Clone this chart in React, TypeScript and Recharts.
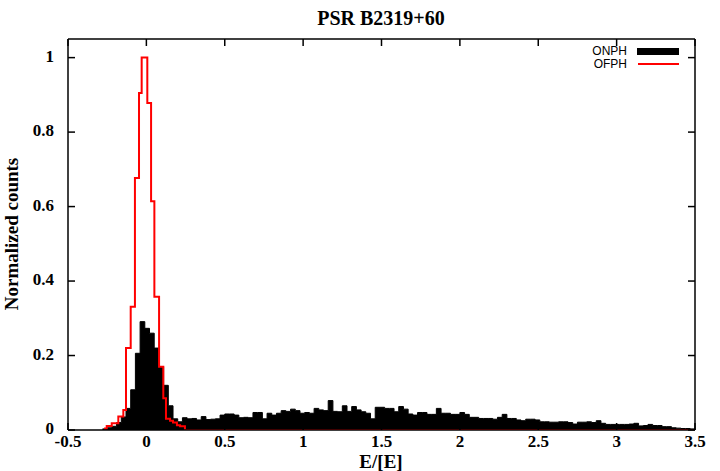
import React from 'react';
import { ComposedChart, Area, Line, XAxis, YAxis } from 'recharts';

// ONPH: on-pulse energy histogram, fixed bin width, left edges from -0.28
const ONPH_START = -0.28;
const ONPH_BIN = 0.03;
const onphCounts = [
  0.003, 0.006, 0.01, 0.02, 0.035, 0.058, 0.108, 0.206, 0.291, 0.273, 0.26, 0.22, 0.17, 0.12, 0.065, 0.03,
  0.022, 0.033, 0.03, 0.031, 0.027, 0.036, 0.028, 0.029, 0.03, 0.04,
  0.043, 0.043, 0.04, 0.033, 0.034, 0.033, 0.047, 0.047, 0.03, 0.045,
  0.04, 0.045, 0.052, 0.05, 0.056, 0.052, 0.045, 0.047, 0.045, 0.058,
  0.054, 0.052, 0.079, 0.05, 0.049, 0.065, 0.05, 0.063, 0.054, 0.049,
  0.045, 0.03, 0.061, 0.061, 0.058, 0.058, 0.049, 0.063, 0.056, 0.043,
  0.04, 0.047, 0.047, 0.042, 0.042, 0.058, 0.045, 0.045, 0.042, 0.042,
  0.047, 0.042, 0.034, 0.034, 0.031, 0.031, 0.031, 0.029, 0.034, 0.042,
  0.031, 0.031, 0.027, 0.025, 0.029, 0.029, 0.027, 0.022, 0.022, 0.021,
  0.021, 0.022, 0.022, 0.02, 0.016, 0.021, 0.021, 0.022, 0.02, 0.025,
  0.018, 0.015, 0.015, 0.015, 0.015, 0.015, 0.016, 0.018, 0.011, 0.012,
  0.015, 0.012, 0.012, 0.009, 0.009, 0.006, 0.005, 0.004, 0.004, 0.003,
];

// OFPH: off-pulse histogram, step edges
const ofphEdges = [
  -0.27, -0.253, -0.221, -0.179, -0.147, -0.13, -0.1, -0.073, -0.047, -0.03, 0.006,
  0.03, 0.051, 0.081, 0.108, 0.125, 0.151, 0.17, 0.195, 0.215, 0.246, 3.5,
];
const ofphCounts = [
  0.004, 0.011, 0.018, 0.036, 0.054, 0.22, 0.331, 0.677, 0.905, 1.0, 0.878,
  0.614, 0.358, 0.17, 0.085, 0.03, 0.025, 0.02, 0.013, 0.01, 0, 0,
];

const xTicks = [-0.5, 0, 0.5, 1, 1.5, 2, 2.5, 3, 3.5];
const yTicks = [0, 0.2, 0.4, 0.6, 0.8, 1];

const onphData = [...onphCounts, onphCounts[onphCounts.length - 1]].map((y, i) => ({
  x: +(ONPH_START + i * ONPH_BIN).toFixed(3),
  y,
}));
const ofphData = ofphEdges.map((x, i) => ({ x, y: ofphCounts[i] }));

const SERIF = '"Liberation Serif", "DejaVu Serif", serif';
const SANS = '"Liberation Sans", Arial, sans-serif';
const TICK = 7;

function BottomTick({ x, y, payload }: any) {
  return (
    <g>
      <line x1={x} x2={x} y1={y} y2={y - TICK} stroke="#000" strokeWidth={1.5} />
      <text x={x} y={y + 17} textAnchor="middle" fontFamily={SERIF} fontWeight="bold" fontSize={17} fill="#000">
        {payload.value}
      </text>
    </g>
  );
}

function TopTick({ x, y }: any) {
  return <line x1={x} x2={x} y1={y} y2={y + TICK} stroke="#000" strokeWidth={1.5} />;
}

function LeftTick({ x, y, payload }: any) {
  return (
    <g>
      <line x1={x} x2={x + TICK} y1={y} y2={y} stroke="#000" strokeWidth={1.5} />
      <text x={x - 14} y={y + 4} textAnchor="end" fontFamily={SERIF} fontWeight="bold" fontSize={17} fill="#000">
        {payload.value}
      </text>
    </g>
  );
}

function RightTick({ x, y }: any) {
  return <line x1={x} x2={x - TICK} y1={y} y2={y} stroke="#000" strokeWidth={1.5} />;
}

export default function App() {
  const axisLine = { stroke: '#000', strokeWidth: 1.5 };
  return (
    <div style={{ position: 'absolute', left: 0, top: 0, background: '#fff' }}>
      <ComposedChart width={720} height={471} margin={{ top: 29, right: 15, bottom: 11, left: 8 }}>
        <XAxis
          xAxisId="b"
          dataKey="x"
          type="number"
          domain={[-0.5, 3.5]}
          ticks={xTicks}
          allowDataOverflow
          height={30}
          tickSize={0}
          tickMargin={0}
          axisLine={axisLine}
          tick={<BottomTick />}
        />
        <XAxis
          xAxisId="t"
          orientation="top"
          dataKey="x"
          type="number"
          domain={[-0.5, 3.5]}
          ticks={xTicks}
          allowDataOverflow
          height={10}
          tickSize={0}
          tickMargin={0}
          axisLine={axisLine}
          tick={<TopTick />}
        />
        <YAxis
          yAxisId="l"
          type="number"
          domain={[0, 1.05]}
          ticks={yTicks}
          allowDataOverflow
          width={60}
          tickSize={0}
          tickMargin={0}
          axisLine={axisLine}
          tick={<LeftTick />}
        />
        <YAxis
          yAxisId="r"
          orientation="right"
          type="number"
          domain={[0, 1.05]}
          ticks={yTicks}
          allowDataOverflow
          width={10}
          tickSize={0}
          tickMargin={0}
          axisLine={axisLine}
          tick={<RightTick />}
        />
        <Area
          data={onphData}
          xAxisId="b"
          yAxisId="l"
          dataKey="y"
          type="stepAfter"
          stroke="#000"
          strokeWidth={1}
          fill="#000"
          fillOpacity={1}
          isAnimationActive={false}
        />
        <Line
          data={ofphData}
          xAxisId="b"
          yAxisId="l"
          dataKey="y"
          type="stepAfter"
          stroke="#ff0000"
          strokeWidth={2}
          dot={false}
          isAnimationActive={false}
        />
        <text x={381} y={25} textAnchor="middle" fontFamily={SERIF} fontWeight="bold" fontSize={20} fill="#000">
          PSR B2319+60
        </text>
        <text x={381} y={468} textAnchor="middle" fontFamily={SERIF} fontWeight="bold" fontSize={19} fill="#000">
          E/[E]
        </text>
        <text
          x={18}
          y={234}
          textAnchor="middle"
          transform="rotate(-90 18 234)"
          fontFamily={SERIF}
          fontWeight="bold"
          fontSize={19}
          fill="#000"
        >
          Normalized counts
        </text>
        <text x={627} y={55} textAnchor="end" fontFamily={SANS} fontSize={12} fill="#000">ONPH</text>
        <rect x={637} y={48} width={42} height={7} fill="#000" />
        <text x={627} y={68} textAnchor="end" fontFamily={SANS} fontSize={12} fill="#000">OFPH</text>
        <line x1={638} x2={679} y1={64} y2={64} stroke="#ff0000" strokeWidth={2} />
      </ComposedChart>
    </div>
  );
}
